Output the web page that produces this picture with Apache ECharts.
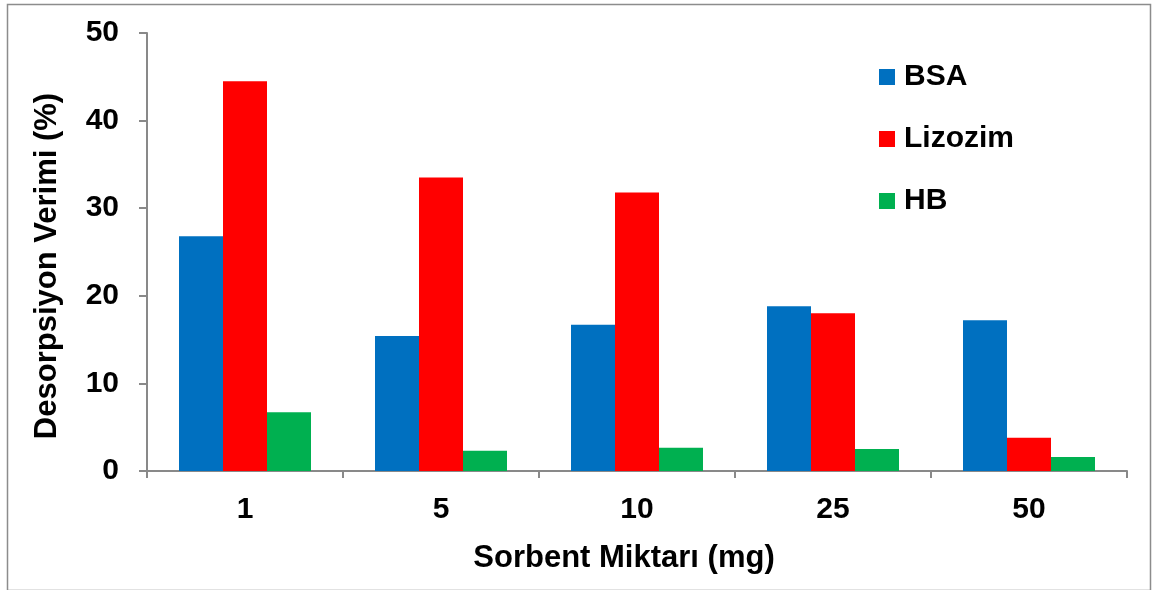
<!DOCTYPE html>
<html>
<head>
<meta charset="utf-8">
<script src="https://cdn.jsdelivr.net/npm/echarts@6/dist/echarts.min.js"></script>
<style>
html,body{margin:0;padding:0;background:#fff;}
#c{width:1152px;height:590px;}
</style>
</head>
<body>
<div id="c"></div>
<script>
const categories = ['1', '5', '10', '25', '50'];
const seriesNames = ['BSA', 'Lizozim', 'HB'];
const bsa = [26.8, 15.4, 16.7, 18.8, 17.2];
const lizozim = [44.5, 33.5, 31.8, 18.0, 3.8];
const hb = [6.7, 2.3, 2.65, 2.5, 1.6];
const yTicks = [0, 10, 20, 30, 40, 50];
const colors = ['#0070C0', '#FF0000', '#00B050'];

const font = '"Liberation Sans", Arial, sans-serif';
const chart = echarts.init(document.getElementById('c'), null, {renderer: 'canvas'});
const values = [bsa, lizozim, hb];
chart.setOption({
  animation: false,
  backgroundColor: '#fff',
  color: colors,
  graphic: [{
    type: 'rect', left: 5, top: 2, z: -1,
    shape: {width: 1143, height: 586},
    style: {fill: 'none', stroke: '#8c8c8c', lineWidth: 1.5}
  }],
  grid: {left: 147, right: 25, top: 33, bottom: 119, containLabel: false},
  legend: {
    orient: 'vertical', left: 879, top: 62, padding: 0,
    itemWidth: 16, itemHeight: 16, itemGap: 32,
    icon: 'rect',
    textStyle: {fontFamily: font, fontWeight: 'bold', fontSize: 30, color: '#000', padding: [0,0,0,4]},
    data: seriesNames
  },
  xAxis: {
    type: 'category', data: categories,
    name: 'Sorbent Miktarı (mg)', nameLocation: 'middle', nameGap: 72,
    nameTextStyle: {fontFamily: font, fontWeight: 'bold', fontSize: 31, color: '#000', padding: [0, 26, 0, 0]},
    axisLine: {lineStyle: {color: '#898989', width: 2}},
    axisTick: {show: true, length: 7, lineStyle: {color: '#898989', width: 2}},
    axisLabel: {fontFamily: font, fontWeight: 'bold', fontSize: 30, color: '#000', margin: 24}
  },
  yAxis: {
    type: 'value', min: 0, max: 50, interval: 10,
    name: 'Desorpsiyon Verimi (%)', nameLocation: 'middle', nameGap: 84,
    nameTextStyle: {fontFamily: font, fontWeight: 'bold', fontSize: 31, color: '#000', padding: [0, 28, 0, 0]},
    axisLine: {show: true, lineStyle: {color: '#898989', width: 2}},
    axisTick: {show: true, length: 8, lineStyle: {color: '#898989', width: 2}},
    splitLine: {show: false},
    axisLabel: {fontFamily: font, fontWeight: 'bold', fontSize: 30, color: '#000', margin: 28,
      formatter: v => yTicks.includes(v) ? String(v) : ''}
  },
  series: seriesNames.map((n, i) => ({
    name: n, type: 'bar', data: values[i], barWidth: 44, barGap: '0%',
    itemStyle: {color: colors[i]}
  }))
});
</script>
</body>
</html>
